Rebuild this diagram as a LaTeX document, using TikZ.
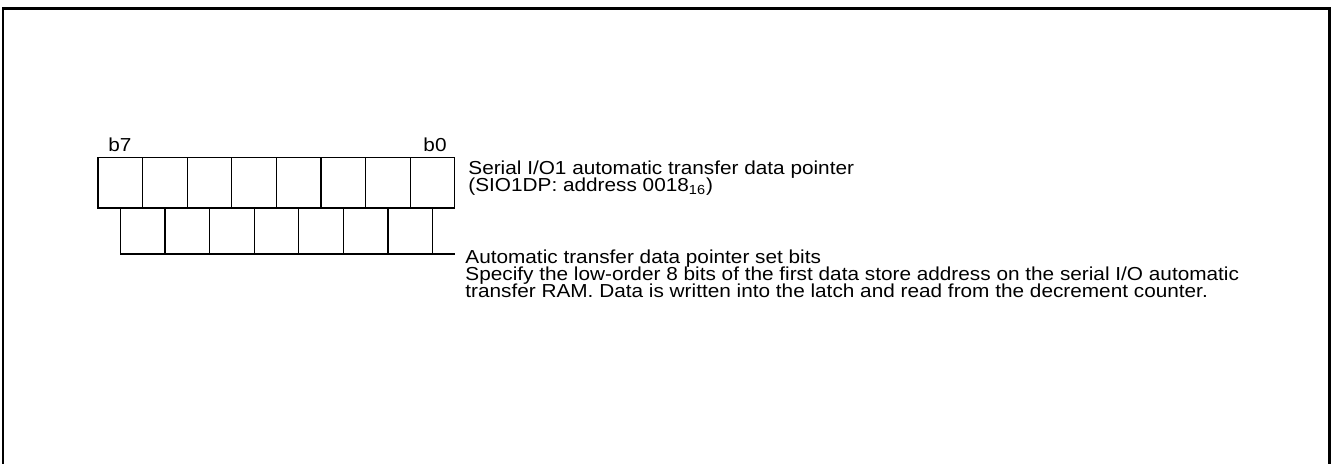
\documentclass[tikz,border=0pt]{standalone}
\usepackage{fontspec}
\setmainfont{Liberation Sans}[FakeStretch=1.105]
\usetikzlibrary{positioning}

\begin{document}
\begin{tikzpicture}[x=0.5pt, y=-0.5pt, font=\fontsize{9.4}{11}\selectfont,
                    frm/.style={line width=1.4pt},
                    cell/.style={draw, line width=0.6pt, minimum width=22.3pt, minimum height=25.25pt,
                                 inner sep=0pt, outer sep=0pt},
                    lead/.style={line width=0.6pt},
                    txt/.style={anchor=base west, inner sep=0pt}]
  \useasboundingbox (0,0) rectangle (1331,464);
  \draw[frm] (3,470) -- (3,8.5) -- (1329.5,8.5) -- (1329.5,470);
  % register cells
  \foreach \i in {0,...,7}
    \node[cell] (c\i) at (120.3+\i*44.6, 182.75) {};
  \node[anchor=base, inner sep=0pt] (b7) at (120,151.5) {b7};
  \node[anchor=base, inner sep=0pt] (b0) at (435,151.5) {b0};
  % set bits
  \coordinate (base) at (455,254);
  \foreach \i in {0,...,7}
    \draw[lead] (c\i.south) -- (c\i.south |- base);
  \draw[lead] (c0.south |- base) -- (base);
  \node[txt] (reg1) at (468,175) {Serial I/O1 automatic transfer data pointer};
  \node[txt] (reg2) at (468,192) {(SIO1DP: address 0018\textsubscript{16})};
  \node[txt] (desc1) at (465,264) {Automatic transfer data pointer set bits};
  \node[txt] (desc2) at (465,281) {Specify the low-order 8 bits of the first data store address on the serial I/O automatic};
  \node[txt] (desc3) at (465,298) {transfer RAM. Data is written into the latch and read from the decrement counter.};
\end{tikzpicture}
\end{document}
